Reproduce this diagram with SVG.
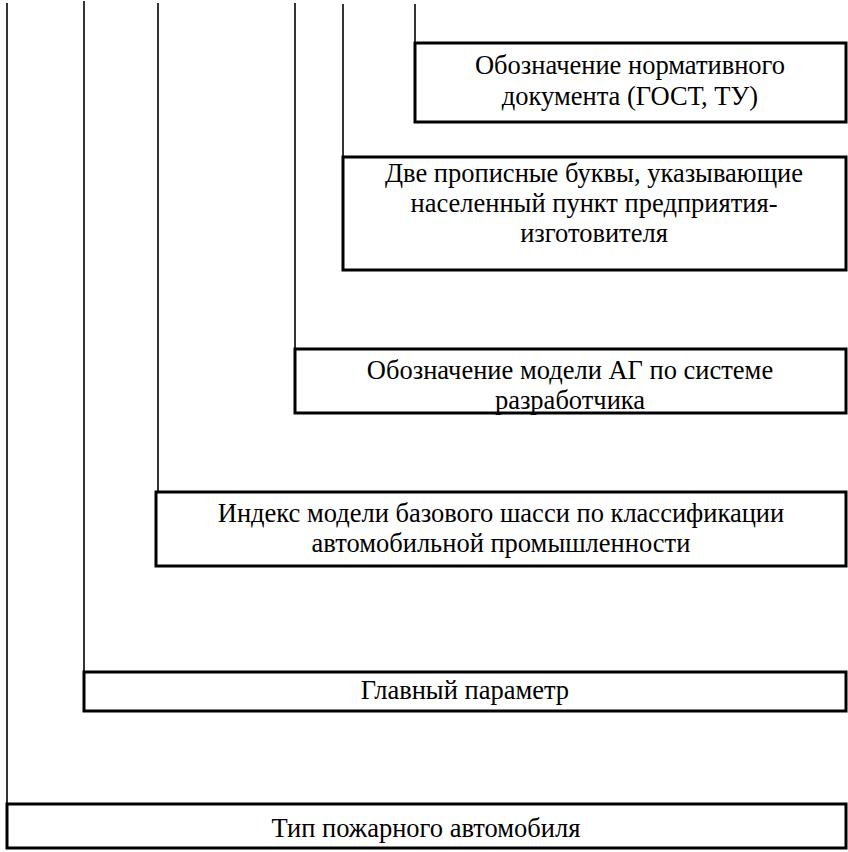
<svg xmlns="http://www.w3.org/2000/svg" width="848" height="852" viewBox="0 0 848 852">
<style>
.box{fill:#fff;stroke:#000;stroke-width:3}
.ln{stroke:#000;stroke-width:1.6;fill:none}
.t{font-family:'Liberation Serif','Times New Roman',Times,serif;font-size:26.5px;fill:#000;text-anchor:middle}
</style>
<rect width="848" height="852" fill="#fff"/>
<g id="connectors">
<line class="ln" x1="7" y1="3" x2="7" y2="804"/>
<line class="ln" x1="84" y1="1" x2="84" y2="672"/>
<line class="ln" x1="158" y1="3" x2="158" y2="492"/>
<line class="ln" x1="295" y1="3" x2="295" y2="349"/>
<line class="ln" x1="343" y1="4" x2="343" y2="157"/>
<line class="ln" x1="415" y1="4" x2="415" y2="43"/>
</g>
<g id="n1" class="t">
<rect class="box" x="415" y="43" width="431" height="79"/>
<text x="630" y="74">Обозначение нормативного</text>
<text x="630" y="105">документа (ГОСТ, ТУ)</text>
</g>
<g id="n2" class="t">
<rect class="box" x="343" y="157" width="503" height="113"/>
<text x="594" y="182">Две прописные буквы, указывающие</text>
<text x="594" y="212">населенный пункт предприятия-</text>
<text x="594" y="242">изготовителя</text>
</g>
<g id="n3" class="t">
<rect class="box" x="295" y="349" width="551" height="64"/>
<text x="570" y="379">Обозначение модели АГ по системе</text>
<text x="570" y="409">разработчика</text>
</g>
<g id="n4" class="t">
<rect class="box" x="156" y="492" width="690" height="74"/>
<text x="501" y="522">Индекс модели базового шасси по классификации</text>
<text x="501" y="552">автомобильной промышленности</text>
</g>
<g id="n5" class="t">
<rect class="box" x="84" y="672" width="762" height="39"/>
<text x="465" y="699">Главный параметр</text>
</g>
<g id="n6" class="t">
<rect class="box" x="7" y="804" width="839" height="44"/>
<text x="426" y="837">Тип пожарного автомобиля</text>
</g>
</svg>
